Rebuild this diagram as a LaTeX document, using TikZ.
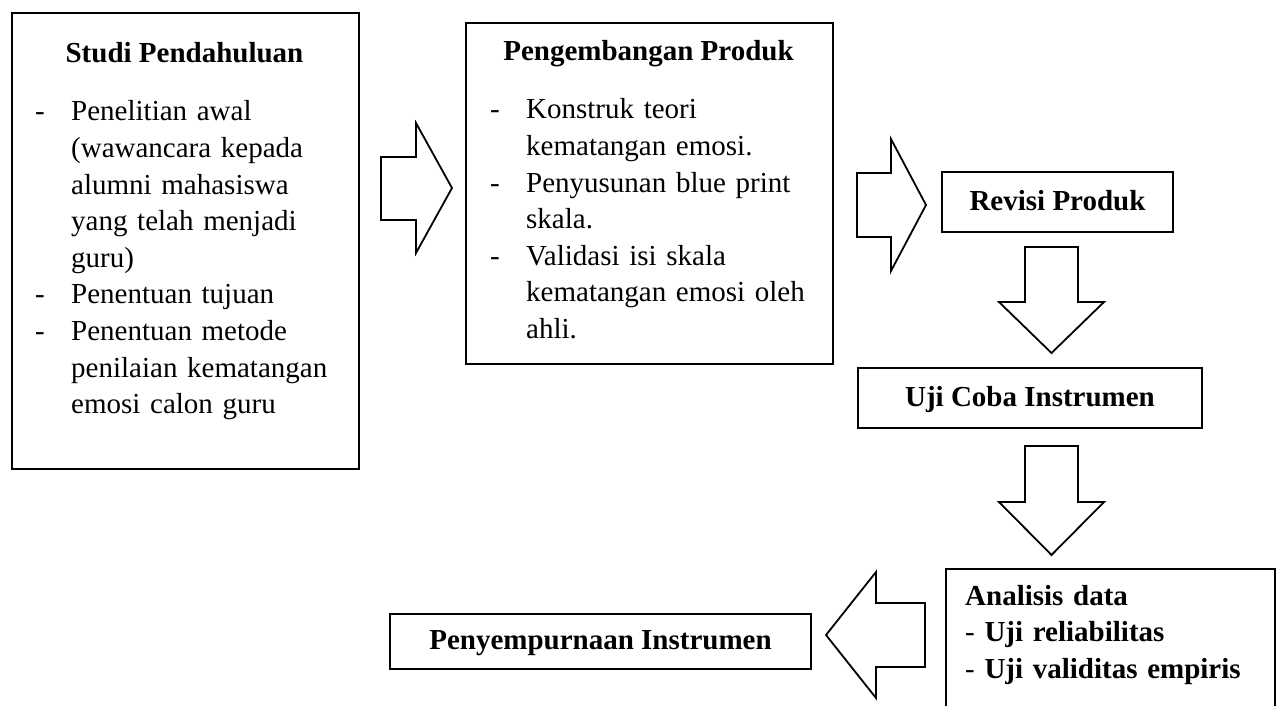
\documentclass[tikz,border=0pt]{standalone}
\usepackage{fontspec}
\setmainfont{Liberation Serif}
\usepackage{tikz}
\usetikzlibrary{positioning}
\newcommand{\itemdash}{\makebox[36pt][l]{-}}
\newcommand{\itemgap}{\hspace*{36pt}}

\begin{document}
\begin{tikzpicture}[x=1pt,y=-1pt,
    every node/.style={font=\fontsize{29pt}{36.6pt}\selectfont},
    box/.style={draw,line width=2pt,inner sep=0pt,anchor=north west,
        text height=22pt,text depth=6pt,font=\fontsize{29pt}{36.6pt}\selectfont\bfseries},
    boxtitle/.style={anchor=base,inner sep=0pt,font=\fontsize{29pt}{36.6pt}\selectfont\bfseries},
    boxlist/.style={anchor=base west,inner sep=0pt,text width=330pt,align=left},
    blockarrow/.style={draw,line width=1.8pt,line join=miter,fill=white}]
                \useasboundingbox (0,0) rectangle (1283,706);
                \fill[white] (0,0) rectangle (1283,706);
                %Boxes
                \node[box,minimum width=347pt,minimum height=456pt] (studi) at (11,12) {};
                \node[box,minimum width=367pt,minimum height=341pt] (pengembangan) at (465,22) {};
                \node[box,minimum width=231pt,minimum height=60pt] (revisi) at (941,171) {Revisi Produk};
                \node[box,minimum width=344pt,minimum height=60pt] (ujicoba) at (857,367) {Uji Coba Instrumen};
                \node[box,minimum width=421pt,minimum height=55pt] (penyempurnaan) at (389,613) {Penyempurnaan Instrumen};
                \node[box,minimum width=329pt,minimum height=141pt] (analisis) at (945,568) {};
                %Box texts
                \node[boxtitle] (studititle) at (184.5,63) {Studi Pendahuluan};
                \node[boxlist] (studilist) at (35,121) {\itemdash Penelitian awal\\
                    \itemgap (wawancara kepada\\
                    \itemgap alumni mahasiswa\\
                    \itemgap yang telah menjadi\\
                    \itemgap guru)\\
                    \itemdash Penentuan tujuan\\
                    \itemdash Penentuan metode\\
                    \itemgap penilaian kematangan\\
                    \itemgap emosi calon guru};
                \node[boxtitle] (pengembangantitle) at (648.5,61) {Pengembangan Produk};
                \node[boxlist] (pengembanganlist) at (490,119) {\itemdash Konstruk teori\\
                    \itemgap kematangan emosi.\\
                    \itemdash Penyusunan blue print\\
                    \itemgap skala.\\
                    \itemdash Validasi isi skala\\
                    \itemgap kematangan emosi oleh\\
                    \itemgap ahli.};
                \node[boxlist,font=\fontsize{29pt}{36.5pt}\selectfont] (analisislist) at (965,605) {\textbf{Analisis data}\\
                    - \textbf{Uji reliabilitas}\\
                    - \textbf{Uji validitas empiris}};
                %Block arrows
                \draw[blockarrow] (381,157) -- (416,157) -- (416,123) -- (452,188) -- (416,253) -- (416,220) -- (381,220) -- cycle;
                \draw[blockarrow] (857,173) -- (891,173) -- (891,139) -- (926,205) -- (891,271) -- (891,237) -- (857,237) -- cycle;
                \draw[blockarrow] (1025,247) -- (1078,247) -- (1078,302) -- (1104,302) -- (1051.5,353) -- (999,302) -- (1025,302) -- cycle;
                \draw[blockarrow] (1025,446) -- (1078,446) -- (1078,502) -- (1104,502) -- (1051.5,555) -- (999,502) -- (1025,502) -- cycle;
                \draw[blockarrow] (925,603) -- (876,603) -- (876,572) -- (826,635) -- (876,698) -- (876,667) -- (925,667) -- cycle;
            \end{tikzpicture}
\end{document}
